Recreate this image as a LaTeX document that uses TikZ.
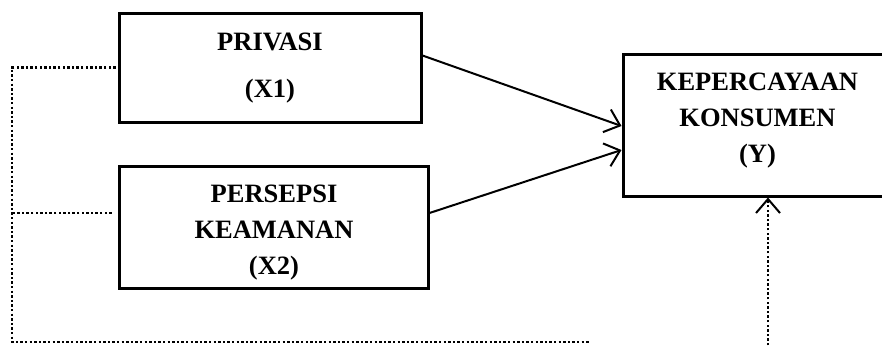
\documentclass[tikz,border=0pt]{standalone}
\usepackage{fontspec}
\setmainfont{Liberation Serif}
\usetikzlibrary{arrows.meta,calc}
\begin{document}
\begin{tikzpicture}[x=1pt,y=-1pt,
  box/.style={draw, line width=3pt, inner sep=0pt},
  lbl/.style={font=\bfseries\fontsize{26.5}{36}\selectfont, anchor=base, inner sep=0pt},
  link/.style={line width=2pt, -{Straight Barb[length=14pt,width=24pt,line width=2pt]}},
  dots/.style={line width=2.8pt, dash pattern=on 2.4pt off 2.2pt}]
\useasboundingbox (0,0) rectangle (882,346);
\clip (0,0) rectangle (882,346);
\node[box, minimum width=302pt, minimum height=109pt] (x1) at (270,67.5) {};
\node[box, minimum width=309pt, minimum height=122pt] (x2) at (273.5,227) {};
\node[box, minimum width=267pt, minimum height=142pt] (y) at (756.5,125) {};
\node[lbl] (x1a) at (270,50) {PRIVASI};
\node[lbl] (x1b) at (270,97) {(X1)};
\node[lbl] (x2a) at (274,202) {PERSEPSI};
\node[lbl] (x2b) at (274,238) {KEAMANAN};
\node[lbl] (x2c) at (274,274) {(X2)};
\node[lbl] (ya) at (757.5,90) {KEPERCAYAAN};
\node[lbl] (yb) at (757.5,126) {KONSUMEN};
\node[lbl] (yc) at (757.5,162) {(Y)};
\draw[link] ([yshift=12pt]x1.east) -- ([yshift=-1pt]y.west);
\draw[link] ([yshift=14pt]x2.east) -- ([yshift=-25pt]y.west);
\coordinate (cl) at (12,342);
\coordinate (cr) at (590,342);
\coordinate (yin) at (768,350);
\draw[dots] ([xshift=-2pt]x1.west) -| (cl) -- (cr);
\draw[dots] ([xshift=-6pt,yshift=14pt]x2.west) -- ([yshift=14pt]x2.west -| cl);
\draw[dots,-{Straight Barb[length=14pt,width=24pt,line width=2pt]}] (yin) -- ([xshift=11.5pt]y.south);
\end{tikzpicture}
\end{document}
